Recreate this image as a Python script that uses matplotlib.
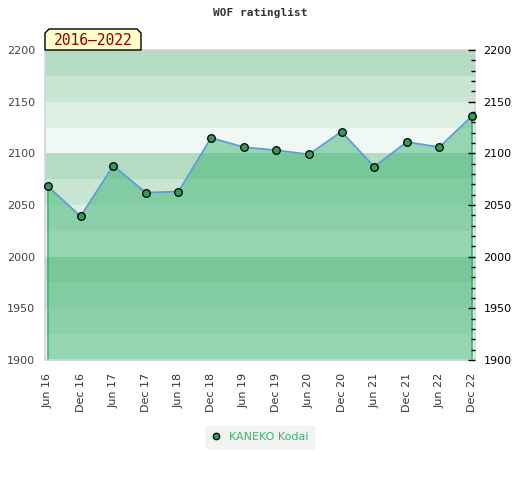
import matplotlib
matplotlib.use("Agg")
import matplotlib.pyplot as plt
from matplotlib.patches import Polygon
from matplotlib.ticker import MultipleLocator
import numpy as np

# rating history, one value per half-year list
periods = ["Jun 16", "Dec 16", "Jun 17", "Dec 17", "Jun 18", "Dec 18", "Jun 19",
           "Dec 19", "Jun 20", "Dec 20", "Jun 21", "Dec 21", "Jun 22", "Dec 22"]
ratings = [2068, 2039, 2088, 2062, 2063, 2115, 2106,
           2103, 2099, 2121, 2087, 2111, 2106, 2136]
player = "KANEKO Kodai"
title = "WOF ratinglist"
period_label = "2016\u20132022"

y_min, y_max = 1900, 2200
# background band colours, from the top of each 100-point block downwards
band_colors = ["#b3dcc3", "#c9e6d4", "#dcefe3", "#eff8f2"]

series_green = "#3cb371"
line_blue = "#5b9fd6"

W, H = 520, 480
fig = plt.figure(figsize=(W / 100, H / 100), dpi=100)
ax = fig.add_axes([45 / W, 1 - 360 / H, 430 / W, 310 / H])

x = np.arange(len(periods))
pad = 3 / 32.6
ax.set_xlim(x[0] - pad, x[-1] + pad)
ax.set_ylim(y_min, y_max)

# horizontal bands every 25 points
for i, lo in enumerate(range(y_max - 25, y_min - 1, -25)):
    ax.axhspan(lo, lo + 25, color=band_colors[i % 4], lw=0, zorder=0)

ax.fill_between(x, ratings, y_min, color=series_green, alpha=0.5, lw=0, zorder=1)
ax.vlines([x[0], x[-1]], y_min, [ratings[0], ratings[-1]], color=series_green,
          lw=1.2, zorder=2)
ax.plot(x, ratings, color=line_blue, lw=1.3, zorder=3)
ax.plot(x, ratings, ls="none", marker="o", ms=5.5, mfc="#2e9d57", mec="black",
        mew=0.9, zorder=4, label=player, clip_on=False)

ax.set_xticks(x)
ax.set_xticklabels(periods, rotation=90, fontsize=8, color="#333333")
ax.tick_params(axis="x", length=0, pad=9)
ax.yaxis.set_major_locator(MultipleLocator(50))
ax.tick_params(axis="y", length=0, pad=7, labelsize=8, labelcolor="#444444")
for s in ax.spines.values():
    s.set_color("#d4d4d4")
    s.set_linewidth(1.2)

ax2 = ax.twinx()
ax2.set_ylim(y_min, y_max)
ax2.yaxis.set_major_locator(MultipleLocator(50))
ax2.yaxis.set_minor_locator(MultipleLocator(10))
ax2.tick_params(axis="y", which="major", direction="in", length=5, width=1,
                pad=6, labelsize=8, labelcolor="black")
ax2.tick_params(axis="y", which="minor", direction="in", length=3, width=1)
for s in ax2.spines.values():
    s.set_visible(False)

fig.text(260 / W, 1 - 13 / H, title, ha="center", va="center",
         family="DejaVu Sans Mono", fontweight="bold", fontsize=8, color="#333333")

# period tag with clipped top corners
bx0, bx1, by0, by1, c = 45, 141, 50, 29, 4
pts = [(bx0, by0), (bx0, by1 + c), (bx0 + c, by1), (bx1 - c, by1),
       (bx1, by1 + c), (bx1, by0)]
tag = Polygon([(px / W, 1 - py / H) for px, py in pts], closed=True,
              transform=fig.transFigure, facecolor="#ffffcc", edgecolor="black",
              lw=1, zorder=5)
fig.patches.append(tag)
fig.text((bx0 + bx1) / 2 / W, 1 - 40.5 / H, period_label, ha="center",
         va="center", family="DejaVu Sans Mono", fontsize=10.5, color="#8b0000",
         zorder=6)

leg = fig.legend(loc="center", bbox_to_anchor=(260 / W, 1 - 437 / H),
                 fontsize=8, frameon=True, fancybox=False, handlelength=0.8,
                 handletextpad=0.8, borderpad=0.5, markerscale=0.85)
leg.get_frame().set_facecolor("#f0f0f0")
leg.get_frame().set_edgecolor("#f0f0f0")
for t in leg.get_texts():
    t.set_color(series_green)

fig.savefig("out.png", dpi=100)
